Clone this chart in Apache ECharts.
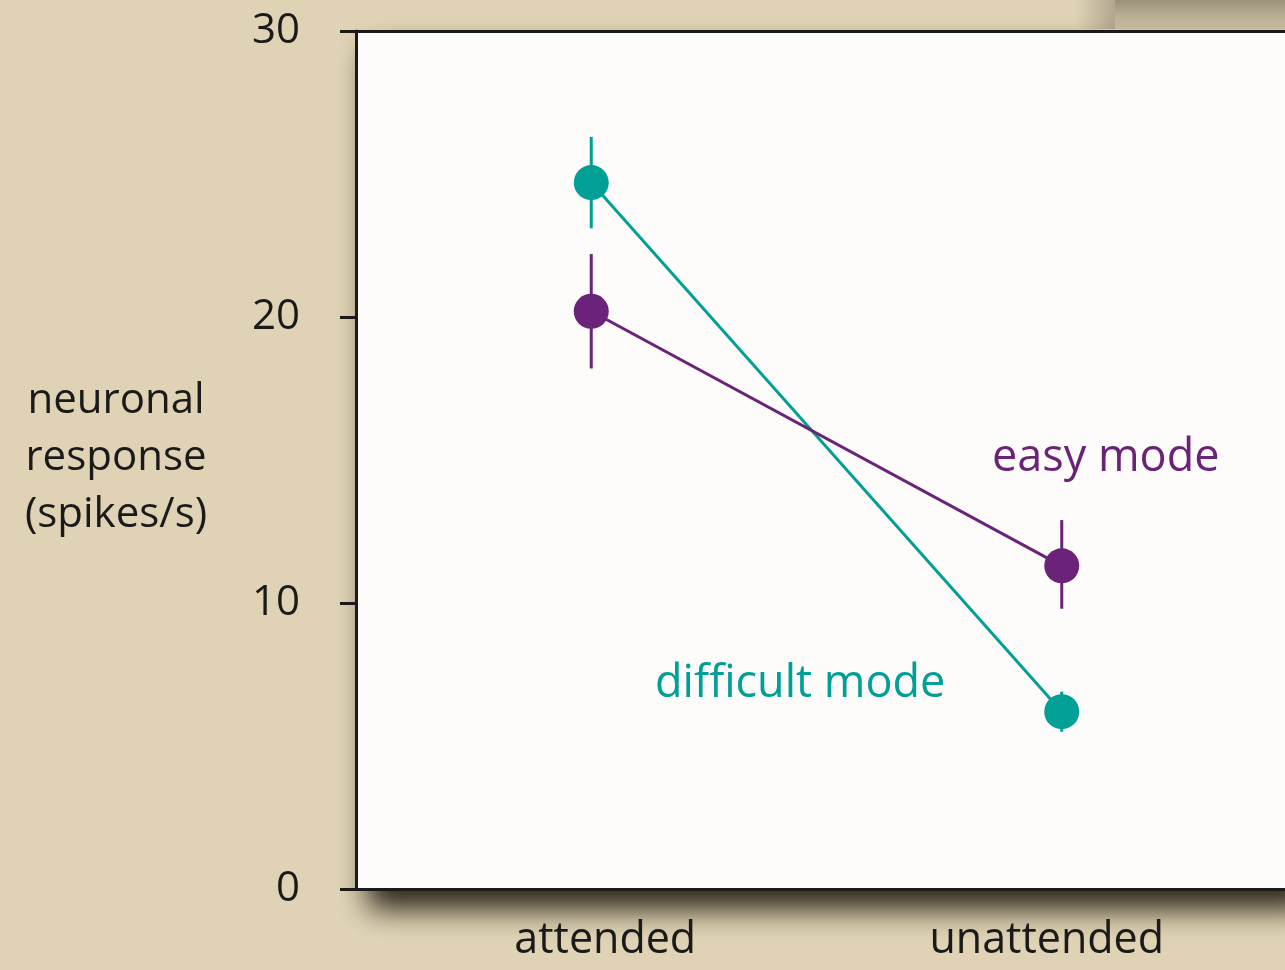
<!DOCTYPE html>
<html>
<head>
<meta charset="utf-8">
<script src="https://cdn.jsdelivr.net/npm/echarts@6/dist/echarts.min.js"></script>
<style>
  html, body { margin: 0; padding: 0; background: #e0d3b5; }
  #chart { width: 1285px; height: 970px; }
</style>
</head>
<body>
<div id="chart"></div>
<script>
// data
const conditions = ['attended', 'unattended'];
const yTicks = [0, 10, 20, 30];
const difficult = [24.7, 6.2];
const difficultErr = [[23.1, 26.3], [5.5, 6.9]];
const easy = [20.2, 11.3];
const easyErr = [[18.2, 22.2], [9.8, 12.9]];

const teal = '#00a096';
const purple = '#6a2378';
const ink = '#1a1a1a';
const font = '"Open Sans", "Noto Sans", sans-serif';

// error bars through the axes
function errorBars(name, err, color) {
    return {
        name: name,
        type: 'custom',
        z: 1,
        data: err.map((e, i) => [i, e[0], e[1]]),
        renderItem: (params, api) => {
            const lo = api.coord([api.value(0), api.value(1)]);
            const hi = api.coord([api.value(0), api.value(2)]);
            return {
                type: 'line',
                shape: { x1: lo[0], y1: lo[1], x2: hi[0], y2: hi[1] },
                style: { stroke: color, lineWidth: 3 },
            };
        },
    };
}

function meanLine(name, values, color) {
    return {
        name: name,
        type: 'line',
        z: 3,
        data: values,
        symbol: 'circle',
        symbolSize: 35,
        itemStyle: { color: color },
        lineStyle: { color: color, width: 3 },
    };
}

const instance = echarts.init(document.querySelector('#chart'));
instance.setOption({
    backgroundColor: '#e0d3b5',
    animation: false,
    textStyle: { fontFamily: font },
    grid: {
        left: 356,
        top: 31,
        width: 941,
        height: 858,
        outerBoundsMode: 'none',
        containLabel: false,
        show: true,
        backgroundColor: '#fdfcfa',
        borderWidth: 0,
        shadowColor: 'rgba(30, 25, 15, 0.95)',
        shadowBlur: 28,
        shadowOffsetX: 12,
        shadowOffsetY: 20,
    },
    xAxis: [
        {
            type: 'category',
            data: conditions,
            boundaryGap: true,
            axisLine: { lineStyle: { color: ink, width: 3 } },
            axisTick: { show: false },
            axisLabel: {
                margin: 30,
                color: ink,
                fontSize: 43,
                fontFamily: font,
                formatter: v => v === 'attended' ? `{l|${ v }}` : `{r|${ v }}`,
                rich: {
                    l: { fontSize: 43, color: ink, fontFamily: font, padding: [0, 0, 0, 28] },
                    r: { fontSize: 43, color: ink, fontFamily: font, padding: [0, 30, 0, 0] },
                },
            },
        },
        {
            type: 'category',
            position: 'top',
            data: conditions,
            axisLine: { lineStyle: { color: ink, width: 3 } },
            axisTick: { show: false },
            axisLabel: { show: false },
        },
    ],
    yAxis: {
        type: 'value',
        min: yTicks[0],
        max: yTicks[yTicks.length - 1],
        interval: 10,
        splitLine: { show: false },
        axisLine: { show: true, lineStyle: { color: ink, width: 3 } },
        axisTick: { show: true, length: 16, lineStyle: { color: ink, width: 3 } },
        axisLabel: { margin: 56, color: ink, fontSize: 42, fontFamily: font },
    },
    graphic: [
        // faint shadow of something above, top right
        {
            type: 'rect',
            left: 1075,
            top: 0,
            z: -1,
            shape: { width: 40, height: 29 },
            style: {
                fill: new echarts.graphic.LinearGradient(0, 0, 1, 0, [
                    { offset: 0, color: 'rgba(110, 100, 85, 0)' },
                    { offset: 1, color: 'rgba(110, 100, 85, 0.4)' },
                ]),
            },
        },
        {
            type: 'rect',
            left: 1115,
            top: 0,
            z: -1,
            shape: { width: 170, height: 29 },
            style: {
                fill: new echarts.graphic.LinearGradient(0, 0, 0, 1, [
                    { offset: 0, color: 'rgba(110, 100, 85, 0.6)' },
                    { offset: 1, color: 'rgba(110, 100, 85, 0.15)' },
                ]),
            },
        },
        {
            type: 'text',
            x: 116,
            y: 458,
            style: {
                text: 'neuronal\nresponse\n(spikes/s)',
                font: `42px ${ font }`,
                fill: ink,
                align: 'center',
                verticalAlign: 'middle',
                lineHeight: 57,
            },
        },
        {
            type: 'text',
            x: 992,
            y: 458,
            style: { text: 'easy mode', font: `45px ${ font }`, fill: purple, verticalAlign: 'middle' },
        },
        {
            type: 'text',
            x: 655,
            y: 684,
            style: { text: 'difficult mode', font: `45px ${ font }`, fill: teal, verticalAlign: 'middle' },
        },
    ],
    series: [
        errorBars('difficult err', difficultErr, teal),
        errorBars('easy err', easyErr, purple),
        meanLine('difficult mode', difficult, teal),
        meanLine('easy mode', easy, purple),
    ],
});
</script>
</body>
</html>
